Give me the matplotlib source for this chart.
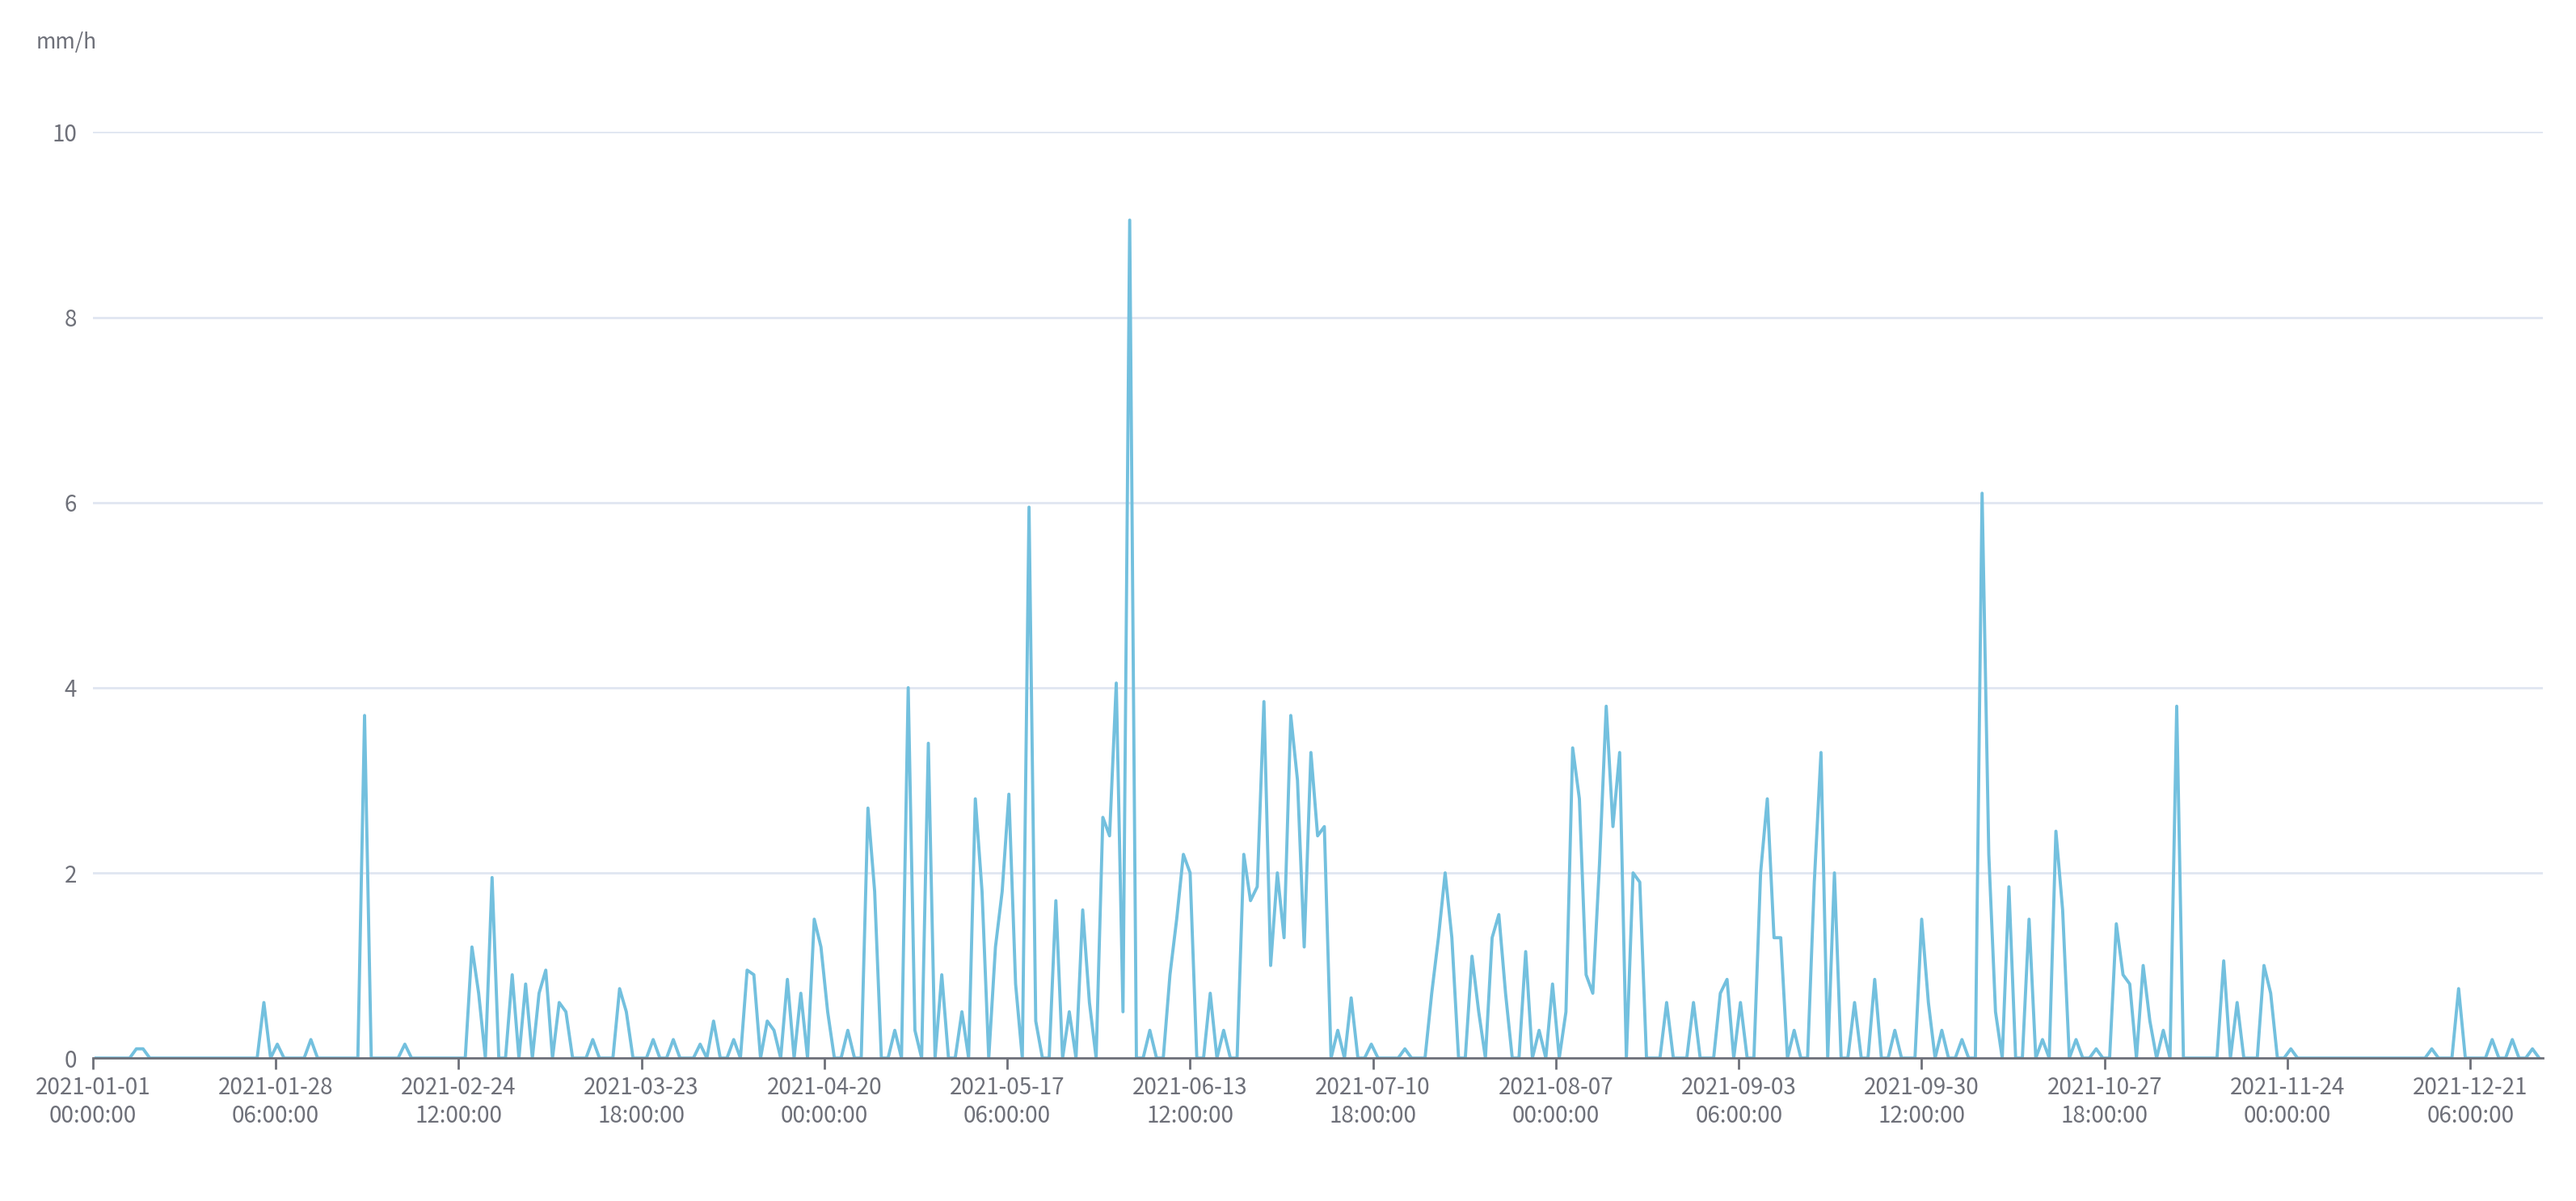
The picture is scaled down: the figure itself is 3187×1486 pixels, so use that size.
import matplotlib
matplotlib.use("Agg")
import matplotlib.pyplot as plt
import numpy as np

plt.rcParams['font.family'] = ['Noto Sans CJK SC', 'DejaVu Sans']

tick_labels = ["2021-01-01\n00:00:00", "2021-01-28\n06:00:00", "2021-02-24\n12:00:00",
               "2021-03-23\n18:00:00", "2021-04-20\n00:00:00", "2021-05-17\n06:00:00",
               "2021-06-13\n12:00:00", "2021-07-10\n18:00:00", "2021-08-07\n00:00:00",
               "2021-09-03\n06:00:00", "2021-09-30\n12:00:00", "2021-10-27\n18:00:00",
               "2021-11-24\n00:00:00", "2021-12-21\n06:00:00"]

# day-of-year (0-based) with daily peak rainfall (mm/h)
rain_days = [6, 7, 25, 27, 32, 40, 46, 56, 57, 59, 62, 64, 66, 67, 69, 70, 74, 78, 79, 83, 86, 90,
             92, 95, 97, 98, 100, 101, 103, 105, 107, 108, 109, 112, 115, 116, 119, 121, 122, 124, 126,
             129, 131, 132, 134, 135, 136, 137, 139, 140, 143, 145, 147, 148, 150, 151, 152, 153, 154,
             157, 160, 161, 162, 163, 166, 168, 171, 172, 173, 174, 175, 176, 177, 178, 179, 180, 181,
             182, 183, 185, 187, 190, 195, 199, 200, 201, 202, 205, 206, 208, 209, 210, 213, 215, 217,
             219, 220, 221, 222, 223, 224, 225, 226, 227, 229, 230, 234, 238, 242, 243, 245, 248, 249,
             250, 251, 253, 256, 257, 259, 262, 265, 268, 272, 273, 275, 278, 281, 282, 283, 285, 288,
             290, 292, 293, 295, 298, 301, 302, 303, 305, 306, 308, 310, 317, 319, 323, 324, 327,
             348, 352, 357, 360, 363]
rain_vals = [0.1, 0.1, 0.6, 0.15, 0.2, 3.7, 0.15, 1.2, 0.7, 1.95, 0.9, 0.8, 0.7, 0.95, 0.6, 0.5, 0.2, 0.75,
             0.5, 0.2, 0.2, 0.15, 0.4, 0.2, 0.95, 0.9, 0.4, 0.3, 0.85, 0.7, 1.5, 1.2, 0.5, 0.3, 2.7, 1.8,
             0.3, 4.0, 0.3, 3.4, 0.9, 0.5, 2.8, 1.8, 1.2, 1.8, 2.85, 0.8, 5.95, 0.4, 1.7, 0.5, 1.6, 0.6,
             2.6, 2.4, 4.05, 0.5, 9.05, 0.3, 0.9, 1.5, 2.2, 2.0, 0.7, 0.3, 2.2, 1.7, 1.85, 3.85, 1.0, 2.0,
             1.3, 3.7, 3.0, 1.2, 3.3, 2.4, 2.5, 0.3, 0.65, 0.15, 0.1, 0.7, 1.3, 2.0, 1.3, 1.1, 0.5, 1.3,
             1.55, 0.7, 1.15, 0.3, 0.8, 0.5, 3.35, 2.8, 0.9, 0.7, 2.1, 3.8, 2.5, 3.3, 2.0, 1.9, 0.6, 0.6,
             0.7, 0.85, 0.6, 2.0, 2.8, 1.3, 1.3, 0.3, 1.9, 3.3, 2.0, 0.6, 0.85, 0.3, 1.5, 0.6, 0.3, 0.2,
             6.1, 2.2, 0.5, 1.85, 1.5, 0.2, 2.45, 1.6, 0.2, 0.1, 1.45, 0.9, 0.8, 1.0, 0.4, 0.3, 3.8, 1.05,
             0.6, 1.0, 0.7, 0.1, 0.1, 0.75, 0.2, 0.2, 0.1]

daily = np.zeros(365)
for d, v in zip(rain_days, rain_vals):
    daily[d] = max(daily[d], v)
hours = np.arange(365) * 24 + 12

fig = plt.figure(figsize=(31.87, 14.86), dpi=100)
ax = fig.add_axes([0.036, 0.119, 0.951, 0.771])
ax.plot(hours, daily, color="#73c0de", lw=2.8)
ax.set_xlim(0, 8760)
ax.set_ylim(0, 10)
ax.set_yticks([0, 2, 4, 6, 8, 10])
ax.set_xticks(np.arange(len(tick_labels)) * 654)
ax.set_xticklabels(tick_labels)
ax.grid(axis="y", color="#e0e6f1", lw=2)
ax.set_axisbelow(True)
for s in ["top", "right", "left"]:
    ax.spines[s].set_visible(False)
ax.spines["bottom"].set_color("#6e7079")
ax.spines["bottom"].set_linewidth(2)
ax.tick_params(axis="y", length=0, labelsize=20, colors="#6e7079", pad=14)
ax.tick_params(axis="x", length=10, width=2, color="#6e7079", labelsize=20, labelcolor="#6e7079", pad=6)
fig.text(0.014, 0.965, "mm/h", fontsize=19, color="#6e7079", va="center")
fig.savefig("out.png", dpi=100)
